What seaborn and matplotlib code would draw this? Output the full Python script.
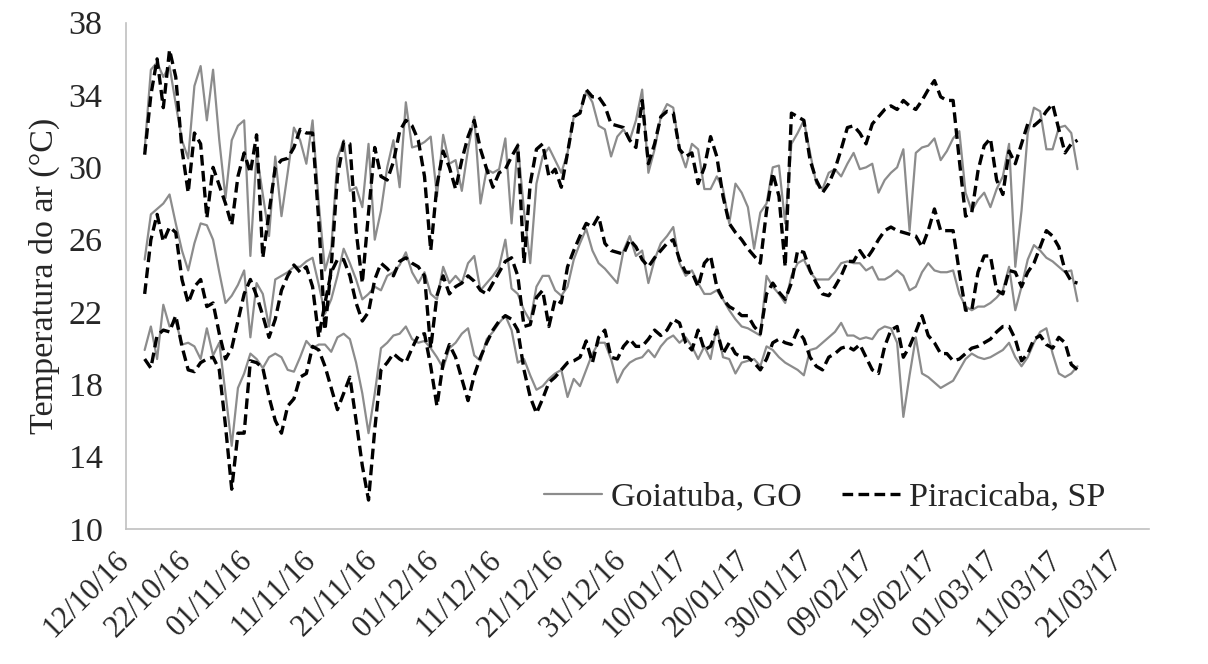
import matplotlib
matplotlib.use("Agg")
import numpy as np
import pandas as pd
import seaborn as sns
import matplotlib.pyplot as plt
import matplotlib.dates as mdates
import matplotlib.transforms as mtransforms
from matplotlib.lines import Line2D

# daily series, 15/10/16 .. 14/03/17
start = "2016-10-15"

go_max = [31.0, 35.4, 35.8, 35.0, 35.6, 33.5, 31.5, 30.5, 34.5, 35.6,
          32.6, 35.4, 31.5, 28.3, 31.5, 32.3, 32.6, 25.1, 30.8, 28.5,
          26.2, 30.6, 27.3, 29.7, 32.2, 31.5, 30.2, 32.6, 28.0, 24.3,
          25.5, 30.5, 31.5, 28.7, 28.9, 27.8, 31.3, 26.0, 27.6, 30.0,
          31.5, 28.9, 33.6, 31.1, 31.2, 31.4, 31.7, 28.4, 31.8, 30.2,
          30.4, 28.7, 31.0, 32.8, 28.0, 29.9, 29.7, 29.9, 31.6, 26.9,
          31.3, 27.6, 24.7, 29.1, 30.6, 31.1, 30.4, 29.7, 30.8, 32.8,
          33.0, 34.2, 33.6, 32.3, 32.1, 30.6, 31.7, 32.1, 31.5, 32.6,
          34.3, 29.7, 31.0, 32.8, 33.5, 33.3, 31.0, 30.0, 31.3, 31.0,
          28.8, 28.8, 29.5, 28.8, 26.9, 29.1, 28.6, 27.8, 25.5, 27.5,
          28.0, 30.0, 30.1, 26.9, 31.3, 31.9, 32.6, 30.8, 29.1, 28.8,
          29.7, 29.9, 29.5, 30.2, 30.8, 29.9, 30.0, 30.2, 28.6, 29.3,
          29.7, 30.0, 31.0, 26.5, 30.8, 31.1, 31.2, 31.6, 30.4, 30.9,
          31.6, 32.0, 28.6, 27.6, 28.2, 28.6, 27.8, 28.8, 29.5, 31.3,
          24.5, 27.6, 31.9, 33.3, 33.1, 31.0, 31.0, 32.2, 32.3, 31.9,
          29.9]

sp_max = [30.7, 34.0, 36.0, 33.3, 36.5, 35.0, 31.0, 28.6, 31.9, 31.3,
          27.2, 30.0, 29.0, 28.0, 26.8, 29.5, 30.8, 29.7, 31.8, 25.0,
          27.5, 30.0, 30.4, 30.5, 31.1, 32.1, 31.9, 31.9, 27.0, 21.0,
          24.5, 29.5, 31.4, 31.3, 26.5, 23.6, 27.5, 31.1, 29.5, 29.3,
          30.3, 32.0, 32.6, 32.3, 31.5, 29.5, 25.4, 29.0, 30.9, 30.0,
          28.8, 30.4, 31.7, 32.6, 31.0, 29.9, 28.9, 29.7, 29.9, 30.6,
          31.2, 24.7, 29.1, 31.0, 31.3, 29.5, 29.9, 28.9, 30.8, 32.8,
          33.0, 34.3, 33.9, 33.9, 33.4, 32.4, 32.3, 32.2, 31.5, 31.1,
          33.7, 30.2, 31.3, 32.8, 33.1, 33.0, 31.0, 30.6, 30.8, 29.1,
          30.0, 31.7, 30.6, 28.4, 26.9, 26.4, 26.0, 25.5, 25.1, 24.7,
          27.6, 29.7, 28.4, 24.5, 33.0, 32.8, 32.6, 30.4, 29.3, 28.6,
          29.1, 29.9, 31.0, 32.2, 32.3, 31.9, 31.3, 32.4, 32.8, 33.2,
          33.4, 33.2, 33.7, 33.4, 33.2, 33.7, 34.3, 34.8, 33.9, 33.7,
          33.7, 30.4, 27.3, 27.5, 29.8, 31.2, 31.6, 29.3, 28.5, 30.9,
          30.2, 31.3, 32.4, 32.3, 32.6, 33.1, 33.5, 32.1, 30.8, 31.3,
          31.5]

go_mean = [24.9, 27.4, 27.7, 28.0, 28.5, 26.9, 25.4, 24.3, 25.8, 26.9,
           26.8, 26.0, 24.2, 22.5, 22.9, 23.5, 24.3, 20.6, 23.6, 23.0,
           21.2, 23.8, 24.0, 24.2, 24.5, 24.5, 24.8, 25.0, 23.5, 21.9,
           22.7, 24.0, 25.5, 24.7, 23.8, 22.7, 23.0, 23.4, 23.2, 24.0,
           24.2, 24.6, 25.3, 24.2, 23.6, 24.2, 23.0, 22.7, 24.5, 23.6,
           24.0, 23.6, 24.7, 25.1, 23.2, 23.6, 24.0, 24.5, 26.0, 23.3,
           23.0, 22.1, 21.5, 23.4, 24.0, 24.0, 23.2, 22.9, 23.4, 24.9,
           25.8, 26.6, 25.4, 24.7, 24.4, 24.0, 23.6, 25.4, 26.2, 25.1,
           25.4, 23.6, 24.9, 25.8, 26.2, 26.7, 24.7, 24.0, 24.3, 23.6,
           23.0, 23.0, 23.2, 22.7, 22.1, 21.6, 21.2, 21.1, 20.9, 20.7,
           24.0, 23.4, 23.0, 22.5, 24.0, 24.7, 24.9, 24.2, 23.8, 23.8,
           23.8, 24.2, 24.7, 24.8, 24.7, 24.7, 24.3, 24.5, 23.8, 23.8,
           24.0, 24.3, 24.0, 23.2, 23.4, 24.2, 24.7, 24.3, 24.2, 24.2,
           24.3, 23.0, 22.3, 22.1, 22.3, 22.3, 22.5, 22.8, 23.2, 24.5,
           22.1, 23.4, 24.9, 25.7, 25.4, 25.0, 24.8, 24.5, 24.2, 24.3,
           22.6]

sp_mean = [23.0, 26.0, 27.4, 25.9, 26.7, 26.4, 23.8, 22.5, 23.4, 23.8,
           22.3, 22.5, 20.8, 19.4, 20.0, 21.5, 23.0, 23.8, 22.9, 21.8,
           20.6, 21.6, 23.2, 24.0, 24.6, 24.2, 24.5, 23.4, 20.6, 22.5,
           24.2, 24.9, 24.9, 24.0, 22.5, 21.5, 22.0, 23.8, 24.7, 24.4,
           24.0, 24.8, 25.0, 24.7, 24.5, 24.0, 20.0, 22.9, 24.0, 23.0,
           23.4, 23.6, 24.0, 23.7, 23.2, 23.0, 23.6, 24.2, 24.8, 25.0,
           24.0, 21.2, 21.3, 22.8, 23.2, 21.2, 22.7, 22.5, 24.5, 25.4,
           26.2, 26.9, 26.7, 27.3, 25.8, 25.4, 25.3, 25.2, 26.0, 25.6,
           24.9, 24.5, 25.0, 25.4, 25.8, 26.0, 24.9, 24.2, 24.2, 23.4,
           24.7, 25.1, 23.4, 22.7, 22.3, 22.1, 21.8, 21.8, 21.2, 20.8,
           23.0, 23.6, 23.1, 22.7, 23.6, 25.4, 25.3, 24.3, 23.6, 23.0,
           22.9, 23.4, 24.0, 24.8, 24.8, 25.4, 24.9, 25.4, 26.0, 26.5,
           26.7, 26.5, 26.4, 26.3, 26.2, 25.6, 26.5, 27.7, 26.5, 26.5,
           26.5, 24.2, 22.1, 22.1, 24.2, 25.1, 25.1, 23.2, 23.0, 24.3,
           24.2, 23.4, 24.2, 24.7, 25.6, 26.5, 26.2, 25.6, 24.3, 23.7,
           23.6]

go_min = [19.9, 21.2, 19.4, 22.4, 21.2, 21.5, 20.2, 20.3, 20.1, 19.4,
          21.1, 19.6, 20.3, 17.5, 14.6, 17.8, 18.6, 19.7, 19.4, 18.9,
          19.5, 19.7, 19.5, 18.8, 18.7, 19.5, 20.4, 20.0, 20.2, 20.2,
          19.8, 20.6, 20.8, 20.5, 19.2, 17.5, 15.3, 17.5, 20.0, 20.3,
          20.7, 20.8, 21.2, 20.5, 20.3, 20.4, 20.0, 19.5, 18.9, 20.0,
          20.3, 20.8, 21.1, 19.6, 19.3, 20.5, 20.9, 21.4, 21.8, 21.0,
          19.2, 19.4, 18.5, 17.7, 17.9, 18.3, 18.6, 18.8, 17.3, 18.3,
          17.9, 18.8, 19.7, 20.3, 20.3, 19.4, 18.1, 18.8, 19.2, 19.4,
          19.5, 19.9, 19.5, 20.1, 20.5, 20.7, 20.3, 20.6, 20.1, 19.4,
          20.1, 19.4, 21.2, 19.5, 19.4, 18.6, 19.2, 19.3, 19.4, 19.0,
          20.1, 19.9, 19.5, 19.2, 19.0, 18.8, 18.5, 19.9, 20.0, 20.3,
          20.6, 20.9, 21.4, 20.7, 20.7, 20.5, 20.6, 20.5, 21.0, 21.2,
          21.1, 20.3, 16.2, 18.5, 20.6, 18.6, 18.4, 18.1, 17.8, 18.0,
          18.2, 18.8, 19.4, 19.7, 19.5, 19.4, 19.5, 19.7, 19.9, 20.3,
          19.5, 19.0, 19.5, 20.3, 20.9, 21.1, 19.7, 18.6, 18.4, 18.6,
          19.0]

sp_min = [19.4, 18.9, 20.7, 21.0, 20.9, 21.8, 20.1, 18.8, 18.7, 19.2,
          19.4, 19.5, 18.8, 15.7, 12.2, 15.3, 15.3, 19.3, 19.2, 18.9,
          17.3, 16.0, 15.3, 16.8, 17.2, 18.4, 18.6, 20.1, 19.9, 19.0,
          17.8, 16.6, 17.5, 18.4, 16.0, 13.5, 11.6, 15.5, 18.8, 19.2,
          19.7, 19.4, 19.2, 20.0, 20.7, 20.8, 19.0, 16.8, 19.2, 20.2,
          19.5, 18.3, 17.1, 18.5, 19.5, 20.3, 21.0, 21.5, 21.8, 21.6,
          21.0, 18.8, 17.3, 16.4, 17.2, 18.1, 18.4, 18.8, 19.2, 19.3,
          19.5, 20.4, 19.2, 20.6, 21.0, 19.5, 19.4, 20.1, 20.5, 20.1,
          20.1, 20.5, 21.0, 20.7, 21.0, 21.6, 21.4, 20.3, 19.9, 21.0,
          19.9, 20.1, 21.0, 19.7, 20.3, 19.7, 19.5, 19.5, 19.2, 18.8,
          19.4, 20.3, 20.5, 20.3, 20.2, 21.0, 20.5, 19.5, 19.0, 18.8,
          19.5, 19.7, 20.0, 20.1, 19.9, 20.2, 19.5, 18.8, 18.6, 20.1,
          21.0, 21.2, 19.5, 20.1, 20.9, 21.8, 20.7, 20.3, 19.7, 19.7,
          19.3, 19.4, 19.7, 20.0, 20.1, 20.3, 20.5, 20.9, 21.2, 21.2,
          20.5, 19.3, 19.7, 20.5, 20.7, 20.2, 20.0, 20.6, 20.3, 19.1,
          18.8]

labels = ["Goiatuba, GO", "Piracicaba, SP"]
y_ticks = [10, 14, 18, 22, 26, 30, 34, 38]

dates = pd.date_range(start, periods=len(go_max), freq="D")

sns.set_style("white")
plt.rcParams["font.family"] = ["Liberation Serif", "DejaVu Serif"]
fs = 24.5

fig = plt.figure(figsize=(12.08, 6.64), dpi=100)
ax = fig.add_axes([126 / 1208, 1 - 529 / 664, (1149 - 126) / 1208, (529 - 22.7) / 664])

gray = "#8c8c8c"
dash = (0, (3.2, 1.6))
for i, s in enumerate([go_max, go_mean, go_min]):
    sns.lineplot(x=dates, y=s, ax=ax, color=gray, lw=1.6,
                 label=labels[0] if i == 0 else "_nolegend_", legend=False)
for i, s in enumerate([sp_max, sp_mean, sp_min]):
    sns.lineplot(x=dates, y=s, ax=ax, color="black", lw=2.4, linestyle=dash,
                 label=labels[1] if i == 0 else "_nolegend_", legend=False)

x0 = pd.Timestamp("2016-10-12")
ax.set_xlim(x0, x0 + pd.Timedelta(days=164.5))
ax.set_ylim(10, 38)
ax.set_yticks(y_ticks)
ax.set_xticks(pd.date_range(x0, periods=17, freq="10D"))
ax.xaxis.set_major_formatter(mdates.DateFormatter("%d/%m/%y"))

for side in ["top", "right"]:
    ax.spines[side].set_visible(False)
for side in ["left", "bottom"]:
    ax.spines[side].set_color("#c0c0c0")
    ax.spines[side].set_linewidth(1.2)

ax.tick_params(axis="y", length=9, width=1.2, color="#c0c0c0", pad=8, labelsize=fs)
ax.tick_params(axis="x", length=8, width=1.2, color="#c0c0c0", pad=4, labelsize=22)
shift = mtransforms.ScaledTranslation(-0.12, 0, fig.dpi_scale_trans)
for lbl in ax.get_xticklabels():
    lbl.set_rotation(45)
    lbl.set_ha("right")
    lbl.set_va("top")
    lbl.set_rotation_mode("anchor")
    lbl.set_transform(lbl.get_transform() + shift)

ax.set_xlabel("")
ax.set_ylabel("Temperatura do ar (°C)", fontsize=fs, labelpad=6)

handles = [Line2D([], [], color=gray, lw=1.6),
           Line2D([], [], color="black", lw=2.4, linestyle=dash)]
ax.legend(handles, labels, loc="center", bbox_to_anchor=(0.683, 0.063), ncol=2,
          frameon=False, fontsize=fs, handlelength=1.7, handletextpad=0.25,
          columnspacing=1.2, borderaxespad=0)

fig.savefig("out.png", dpi=100)
